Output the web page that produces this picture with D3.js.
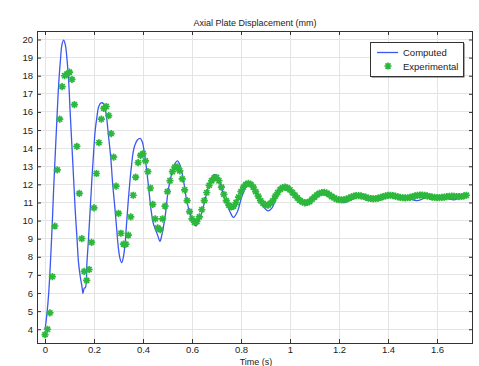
<!DOCTYPE html>
<html lang="en">
<head>
<meta charset="UTF-8">
<title>Axial Plate Displacement</title>
<script src="https://cdn.jsdelivr.net/npm/d3@7"></script>
<style>
    body { margin: 0; background: #fff; }
    text { font-family: "Liberation Sans", Arial, sans-serif; fill: #222; }
</style>
</head>
<body>
<svg width="479" height="366" id="mainsvg"></svg>
<script>
// computed curve: time (s) and displacement (mm)
const compT = [0.000, 0.008, 0.015, 0.022, 0.029, 0.035, 0.042, 0.049, 0.056, 0.063, 0.069, 0.076, 0.083, 0.090, 0.097,
    0.103, 0.110, 0.117, 0.124, 0.131, 0.137, 0.144, 0.151, 0.155, 0.160, 0.165, 0.171, 0.178, 0.185, 0.192, 0.199,
    0.205, 0.212, 0.219, 0.229, 0.238, 0.249, 0.258, 0.268, 0.276, 0.286, 0.293, 0.299, 0.306, 0.313, 0.320, 0.327,
    0.333, 0.340, 0.347, 0.354, 0.360, 0.367, 0.377, 0.388, 0.397, 0.405, 0.415, 0.424, 0.433, 0.442, 0.452, 0.462,
    0.469, 0.476, 0.490, 0.503, 0.517, 0.531, 0.540, 0.551, 0.565, 0.578, 0.592, 0.605, 0.616, 0.630, 0.646, 0.660,
    0.673, 0.691, 0.707, 0.721, 0.735, 0.755, 0.769, 0.785, 0.803, 0.823, 0.834, 0.850, 0.871, 0.891, 0.912, 0.925,
    0.946, 0.966, 0.984, 1.007, 1.034, 1.068, 1.100, 1.140, 1.180, 1.220, 1.260, 1.290, 1.320, 1.360, 1.400, 1.440,
    1.480, 1.520, 1.560, 1.600, 1.640, 1.670, 1.700, 1.720];
const compV = [3.95, 4.87, 5.98, 7.64, 9.66, 11.68, 13.71, 15.73, 17.58, 18.87, 19.7, 19.97, 19.7, 18.87, 17.58,
    15.9, 14.08, 12.24, 10.4, 8.92, 7.65, 6.9, 6.34, 5.98, 6.27, 6.3, 7.64, 9.1, 10.76, 12.42, 13.9,
    15.0, 15.73, 16.29, 16.5, 16.47, 15.92, 14.82, 13.53, 12.06, 10.58, 9.47, 8.55, 7.91, 7.67, 8.0, 8.74,
    9.85, 11.13, 12.24, 13.16, 13.8, 14.17, 14.45, 14.54, 14.35, 13.8, 12.79, 11.68, 10.58, 9.85, 9.47, 9.1,
    8.85, 9.15, 10.2, 11.68, 12.6, 13.16, 13.3, 13.07, 12.24, 11.13, 10.4, 9.93, 9.7, 10.03, 10.76, 11.5,
    12.14, 12.55, 12.33, 11.78, 11.13, 10.49, 10.18, 10.49, 11.31, 11.96, 12.09, 11.87, 11.23, 10.76, 10.54, 10.67,
    11.31, 11.78, 11.96, 11.68, 11.23, 10.85, 11.3, 11.6, 11.3, 11.0, 11.25, 11.4, 11.3, 11.1, 11.3, 11.38,
    11.25, 11.1, 11.3, 11.38, 11.25, 11.15, 11.3, 11.35];

// experimental samples, one every 0.01 s starting at t = 0
const expStep = 0.01;
const expV = [3.7, 4.0, 4.9, 6.9, 9.7, 12.8, 15.6, 17.4, 18.0, 18.1,
    18.2, 17.8, 16.4, 14.1, 11.5, 9.0, 7.2, 6.7, 7.3, 8.8,
    10.7, 12.6, 14.3, 15.6, 16.2, 16.3, 15.8, 14.8, 13.5, 11.9,
    10.4, 9.3, 8.7, 8.7, 9.2, 10.2, 11.4, 12.4, 13.2, 13.6,
    13.7, 13.3, 12.7, 11.8, 10.9, 10.1, 9.6, 9.5, 10.1, 10.8,
    11.6, 12.2, 12.7, 12.95, 12.97, 12.75, 12.3, 11.7, 11.1, 10.5,
    10.1, 9.9, 9.95, 10.2, 10.6, 11.1, 11.55, 11.95, 12.2, 12.35,
    12.38, 12.2, 11.85, 11.45, 11.1, 10.85, 10.75, 10.8, 11.0, 11.3,
    11.6, 11.85, 12.0, 12.05, 12.0, 11.85, 11.6, 11.35, 11.1, 10.95,
    10.85, 10.85, 10.95, 11.1, 11.35, 11.55, 11.72, 11.82, 11.85, 11.8,
    11.7, 11.55, 11.4, 11.25, 11.12, 11.03, 10.98, 11.0, 11.05, 11.18,
    11.3, 11.42, 11.5, 11.55, 11.56, 11.52, 11.43, 11.33, 11.25, 11.18,
    11.15, 11.14, 11.15, 11.19, 11.24, 11.3, 11.35, 11.38, 11.38, 11.36,
    11.33, 11.28, 11.24, 11.22, 11.2, 11.21, 11.24, 11.28, 11.32, 11.36,
    11.39, 11.4, 11.38, 11.35, 11.31, 11.28, 11.26, 11.25, 11.26, 11.28,
    11.32, 11.36, 11.39, 11.41, 11.41, 11.39, 11.36, 11.33, 11.3, 11.28,
    11.27, 11.27, 11.28, 11.3, 11.32, 11.34, 11.35, 11.34, 11.33, 11.32,
    11.33, 11.36, 11.4];

const xTicks = [0, 0.2, 0.4, 0.6, 0.8, 1, 1.2, 1.4, 1.6];
const yTicks = [4, 5, 6, 7, 8, 9, 10, 11, 12, 13, 14, 15, 16, 17, 18, 19, 20];
const seriesNames = ['Computed', 'Experimental'];

const svg = d3.select('#mainsvg');
const plot = { left: 37, right: 473, top: 31, bottom: 343 };
const blue = '#3b58f2';
const green = '#2db83d';

const xScale = d3.scaleLinear().domain([-0.0327, 1.7469]).range([plot.left, plot.right]);
const yScale = d3.scaleLinear().domain([3.24, 20.47]).range([plot.bottom, plot.top]);

// grid
const grid = svg.append('g').attr('id', 'grid');
grid.selectAll('.vgrid').data(xTicks).join('line')
    .attr('x1', d => xScale(d)).attr('x2', d => xScale(d))
    .attr('y1', plot.top).attr('y2', plot.bottom)
    .attr('stroke', '#e4e4e4').attr('shape-rendering', 'crispEdges');
grid.selectAll('.hgrid').data(yTicks).join('line')
    .attr('y1', d => yScale(d)).attr('y2', d => yScale(d))
    .attr('x1', plot.left).attr('x2', plot.right)
    .attr('stroke', '#e4e4e4').attr('shape-rendering', 'crispEdges');

// axes with inward ticks on all four sides
const fmt = d => d3.format('~g')(d);
const axisStyle = g => {
    g.select('.domain').remove();
    g.selectAll('.tick line').attr('stroke', '#333');
    g.selectAll('.tick text').attr('font-size', '9.5px').attr('fill', '#222')
        .attr('font-family', '"Liberation Sans", Arial, sans-serif');
};
svg.append('g').attr('transform', `translate(0,${plot.bottom})`)
    .call(d3.axisBottom(xScale).tickValues(xTicks).tickFormat(fmt).tickSizeInner(-4).tickPadding(3))
    .call(axisStyle);
svg.append('g').attr('transform', `translate(0,${plot.top})`)
    .call(d3.axisTop(xScale).tickValues(xTicks).tickFormat('').tickSizeInner(-4))
    .call(axisStyle);
svg.append('g').attr('transform', `translate(${plot.left},0)`)
    .call(d3.axisLeft(yScale).tickValues(yTicks).tickFormat(fmt).tickSizeInner(-4).tickPadding(4))
    .call(axisStyle);
svg.append('g').attr('transform', `translate(${plot.right},0)`)
    .call(d3.axisRight(yScale).tickValues(yTicks).tickFormat('').tickSizeInner(-4))
    .call(axisStyle);

svg.append('rect')
    .attr('x', plot.left + 0.5).attr('y', plot.top + 0.5)
    .attr('width', plot.right - plot.left - 1).attr('height', plot.bottom - plot.top)
    .attr('fill', 'none').attr('stroke', '#333');

// computed line
const compData = compT.map((t, i) => ({ t: t, v: compV[i] }));
const line = d3.line().x(d => xScale(d.t)).y(d => yScale(d.v)).curve(d3.curveCatmullRom);
svg.append('path').datum(compData)
    .attr('d', line).attr('fill', 'none')
    .attr('stroke', blue).attr('stroke-width', 1.3);

// experimental markers
const starPath = r => {
    const a = r * Math.SQRT1_2;
    return `M${-r},0L${r},0M0,${-r}L0,${r}M${-a},${-a}L${a},${a}M${-a},${a}L${a},${-a}`;
};
const expData = expV.map((v, i) => ({ t: i * expStep, v: v }));
svg.append('g').attr('id', 'markers')
    .selectAll('path').data(expData).join('path')
    .attr('transform', d => `translate(${xScale(d.t)},${yScale(d.v)})`)
    .attr('d', starPath(3.6))
    .attr('stroke', green).attr('stroke-width', 1.7).attr('fill', 'none');

// title and axis label
svg.append('text').attr('x', (plot.left + plot.right) / 2).attr('y', 26)
    .attr('text-anchor', 'middle').attr('font-size', '9px')
    .text('Axial Plate Displacement (mm)');
svg.append('text').attr('x', (plot.left + plot.right) / 2 + 1).attr('y', 365)
    .attr('text-anchor', 'middle').attr('font-size', '9px')
    .text('Time (s)');

// legend
const lg = svg.append('g').attr('transform', 'translate(370,42)');
lg.append('rect').attr('x', 1.5).attr('y', 1.5).attr('width', 93).attr('height', 34)
    .attr('fill', '#555');
lg.append('rect').attr('x', 0.5).attr('y', 0.5).attr('width', 93).attr('height', 34)
    .attr('fill', '#fff').attr('stroke', '#333');
lg.append('line').attr('x1', 7).attr('x2', 28).attr('y1', 10.5).attr('y2', 10.5)
    .attr('stroke', blue).attr('stroke-width', 1.3);
lg.append('path').attr('transform', 'translate(18,24)').attr('d', starPath(3.6))
    .attr('stroke', green).attr('stroke-width', 1.7);
lg.selectAll('.lgtext').data(seriesNames).join('text')
    .attr('class', 'lgtext')
    .attr('x', 33).attr('y', (d, i) => 14 + i * 14)
    .attr('font-size', '9.5px')
    .text(d => d);
</script>
</body>
</html>
